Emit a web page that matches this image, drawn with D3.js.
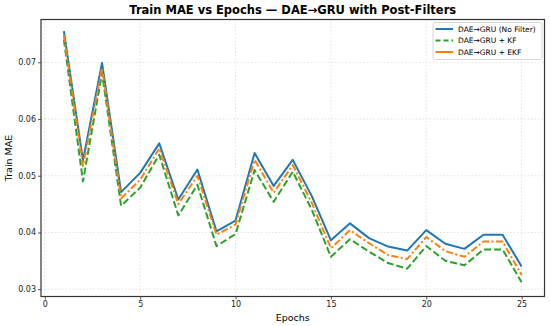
<!DOCTYPE html>
<html><head><meta charset="utf-8">
<script src="https://cdn.jsdelivr.net/npm/d3@7/dist/d3.min.js"></script>
<style>body{margin:0;background:#fff;}svg{display:block;font-family:"DejaVu Sans",sans-serif;}</style>
</head><body>
<script>
const epochs = d3.range(1, 26);
const noFilter = [0.0755,0.0527,0.0699,0.0471,0.0505,0.0557,0.0458,0.0511,0.0402,0.0421,0.0540,0.0482,0.0528,0.0464,0.0386,0.0416,0.0390,0.0375,0.0368,0.0404,0.0380,0.0371,0.0396,0.0396,0.0340];
const kf =       [0.0740,0.0490,0.0681,0.0447,0.0479,0.0537,0.0430,0.0484,0.0376,0.0397,0.0510,0.0454,0.0507,0.0440,0.0357,0.0388,0.0366,0.0346,0.0336,0.0376,0.0350,0.0342,0.0370,0.0370,0.0312];
const ekf =      [0.0748,0.0517,0.0690,0.0460,0.0493,0.0548,0.0450,0.0500,0.0396,0.0414,0.0528,0.0470,0.0519,0.0452,0.0372,0.0404,0.0381,0.0360,0.0353,0.0392,0.0367,0.0357,0.0384,0.0384,0.0325];
const xTicks = [0,5,10,15,20,25];
const yTicks = [0.03,0.04,0.05,0.06,0.07];
const seriesNames = ["DAE\u2192GRU (No Filter)","DAE\u2192GRU + KF","DAE\u2192GRU + EKF"];
const colors = ["#1f77b4","#2ca02c","#ff7f0e"];
const dashes = [null,"7,3","7,2.5,2,2.5"];
const allSeries = [noFilter, kf, ekf];

const W = 550, H = 326;
const m = {l:41, r:5.5, t:19.5, b:29.5};
const svg = d3.select("body").append("svg").attr("width",W).attr("height",H);
const x = d3.scaleLinear().domain([-0.2,26.2]).range([m.l, W-m.r]);
const y = d3.scaleLinear().domain([0.0287,0.07755]).range([H-m.b, m.t]);

// grid
const g = svg.append("g");
g.selectAll(".gx").data(xTicks).join("line")
 .attr("x1",d=>x(d)).attr("x2",d=>x(d)).attr("y1",m.t).attr("y2",H-m.b)
 .attr("stroke","#b0b0b0").attr("stroke-width",0.6).attr("stroke-dasharray","1.5,2").attr("opacity",0.6);
g.selectAll(".gy").data(yTicks).join("line")
 .attr("x1",m.l).attr("x2",W-m.r).attr("y1",d=>y(d)).attr("y2",d=>y(d))
 .attr("stroke","#b0b0b0").attr("stroke-width",0.6).attr("stroke-dasharray","1.5,2").attr("opacity",0.6);

// lines
const line = d3.line().x((d,i)=>x(epochs[i])).y(d=>y(d));
allSeries.forEach((s,k)=>{
  svg.append("path").datum(s).attr("d",line).attr("fill","none")
   .attr("stroke",colors[k]).attr("stroke-width",2)
   .attr("stroke-dasharray",dashes[k]).attr("stroke-linejoin","round");
});

// axes
const xAxis = svg.append("g").attr("transform",`translate(0,${H-m.b})`)
 .call(d3.axisBottom(x).tickValues(xTicks).tickFormat(d3.format("d")).tickSize(3).tickPadding(2));
const yAxis = svg.append("g").attr("transform",`translate(${m.l},0)`)
 .call(d3.axisLeft(y).tickValues(yTicks).tickFormat(d3.format(".2f")).tickSize(3).tickPadding(2));
[xAxis,yAxis].forEach(a=>{
  a.select(".domain").remove();
  a.selectAll("text").attr("font-size",8).attr("fill","#222").attr("font-family","DejaVu Sans");
  a.selectAll("line").attr("stroke","#333").attr("stroke-width",0.8);
});
// frame
svg.append("rect").attr("x",m.l).attr("y",m.t).attr("width",W-m.r-m.l).attr("height",H-m.b-m.t)
 .attr("fill","none").attr("stroke","#333").attr("stroke-width",1.2);

// labels
svg.append("text").attr("x",(m.l+W-m.r)/2).attr("y",14).attr("text-anchor","middle")
 .attr("font-size",11.5).attr("font-weight","bold").text("Train MAE vs Epochs \u2014 DAE\u2192GRU with Post-Filters");
svg.append("text").attr("x",(m.l+W-m.r)/2).attr("y",321).attr("text-anchor","middle")
 .attr("font-size",9.5).text("Epochs");
svg.append("text").attr("transform",`translate(12,${(m.t+H-m.b)/2}) rotate(-90)`).attr("text-anchor","middle")
 .attr("font-size",9.5).text("Train MAE");

// legend
const lg = svg.append("g").attr("transform","translate(433,22.5)");
lg.append("rect").attr("width",109).attr("height",37).attr("rx",2)
 .attr("fill","#fff").attr("fill-opacity",0.85).attr("stroke","#ccc").attr("stroke-width",0.8);
seriesNames.forEach((n,k)=>{
  const yy = 6.5 + k*11.5;
  lg.append("line").attr("x1",2.5).attr("x2",20).attr("y1",yy).attr("y2",yy)
   .attr("stroke",colors[k]).attr("stroke-width",2).attr("stroke-dasharray",dashes[k] && k===1?"5,3":null);
  lg.append("text").attr("x",25).attr("y",yy+2.7).attr("font-size",7.5).text(n);
});
</script>
</body></html>
